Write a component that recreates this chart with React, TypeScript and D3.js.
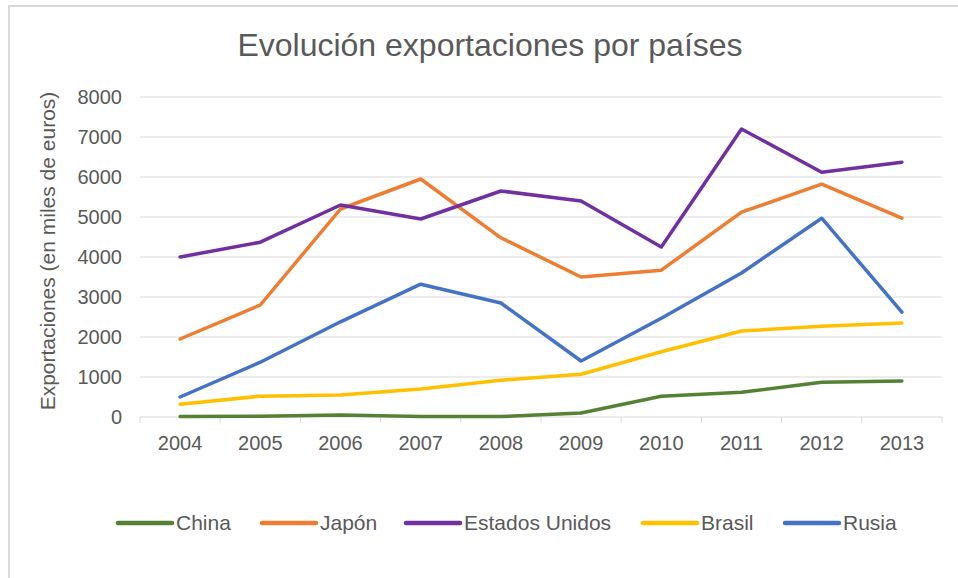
import React from "react";
import * as d3 from "d3";

const years = ["2004", "2005", "2006", "2007", "2008", "2009", "2010", "2011", "2012", "2013"];
const china = [10, 20, 50, 10, 10, 100, 520, 620, 870, 900];
const japon = [1950, 2800, 5200, 5950, 4480, 3500, 3670, 5120, 5820, 4970];
const eeuu = [4000, 4370, 5300, 4950, 5650, 5400, 4250, 7200, 6120, 6370];
const brasil = [320, 520, 550, 700, 920, 1070, 1630, 2150, 2270, 2350];
const rusia = [500, 1370, 2380, 3320, 2850, 1400, 2470, 3600, 4970, 2620];
const yTicks = [0, 1000, 2000, 3000, 4000, 5000, 6000, 7000, 8000];

const seriesNames = ["China", "Japón", "Estados Unidos", "Brasil", "Rusia"];
const seriesValues = [china, japon, eeuu, brasil, rusia];
const seriesColors = ["#548235", "#ED7D31", "#7030A0", "#FFC000", "#4472C4"];

const W = 958;
const H = 578;
const left = 140;
const right = 942;
const top = 97;
const bottom = 417;
const font = "'Liberation Sans', Arial, sans-serif";
const textColor = "#595959";

export default function App() {
  const x = d3.scaleBand<string>().domain(years).range([left, right]);
  const y = d3.scaleLinear().domain([0, 8000]).range([bottom, top]);
  const line = d3
    .line<number>()
    .x((_, i) => (x(years[i]) as number) + x.bandwidth() / 2)
    .y((d) => y(d));

  const legendX = [118, 262, 406, 643, 785];

  return (
    <svg
      width={W}
      height={H}
      style={{ position: "absolute", left: 0, top: 0, background: "#fff" }}
    >
      <rect x={9} y={6} width={W + 10} height={H + 10} fill="#fff" stroke="#d9d9d9" strokeWidth={2} />
      <text
        x={490}
        y={56}
        textAnchor="middle"
        fontFamily={font}
        fontSize={32}
        fill={textColor}
      >
        Evolución exportaciones por países
      </text>
      {yTicks.map((t) => (
        <g key={t}>
          {t > 0 && (
            <line x1={left} x2={right} y1={y(t)} y2={y(t)} stroke="#d9d9d9" strokeWidth={1} />
          )}
          <text
            x={122}
            y={y(t)}
            dy="0.35em"
            textAnchor="end"
            fontFamily={font}
            fontSize={20}
            fill={textColor}
          >
            {t}
          </text>
        </g>
      ))}
      <line x1={left} x2={right} y1={bottom} y2={bottom} stroke="#d9d9d9" strokeWidth={1} />
      {years.map((yr) => (
        <line
          key={"t" + yr}
          x1={x(yr) as number}
          x2={x(yr) as number}
          y1={bottom}
          y2={bottom + 6}
          stroke="#d9d9d9"
        />
      ))}
      <line x1={right} x2={right} y1={bottom} y2={bottom + 6} stroke="#d9d9d9" />
      {years.map((yr) => (
        <text
          key={yr}
          x={(x(yr) as number) + x.bandwidth() / 2}
          y={450}
          textAnchor="middle"
          fontFamily={font}
          fontSize={20}
          fill={textColor}
        >
          {yr}
        </text>
      ))}
      <text
        transform={`translate(55, 251) rotate(-90)`}
        textAnchor="middle"
        fontFamily={font}
        fontSize={21}
        fill={textColor}
      >
        Exportaciones (en miles de euros)
      </text>
      {seriesValues.map((vals, i) => (
        <path
          key={seriesNames[i]}
          d={line(vals) || ""}
          fill="none"
          stroke={seriesColors[i]}
          strokeWidth={3.5}
          strokeLinejoin="round"
          strokeLinecap="round"
        />
      ))}
      {seriesNames.map((n, i) => (
        <g key={"l" + n}>
          <line
            x1={legendX[i]}
            x2={legendX[i] + 54}
            y1={523}
            y2={523}
            stroke={seriesColors[i]}
            strokeWidth={4.5}
            strokeLinecap="round"
          />
          <text
            x={legendX[i] + 58}
            y={523}
            dy="0.35em"
            fontFamily={font}
            fontSize={21}
            fill={textColor}
          >
            {n}
          </text>
        </g>
      ))}
    </svg>
  );
}
